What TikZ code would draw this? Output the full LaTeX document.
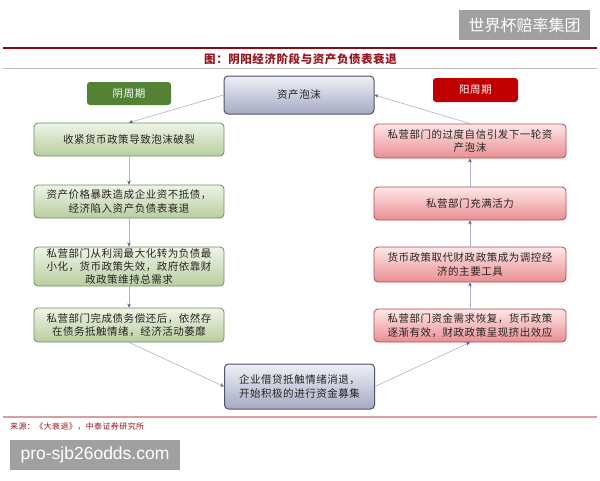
\documentclass[tikz,border=0pt]{standalone}
\usepackage{fontspec}
\newfontfamily\cjk[LetterSpace=5]{Noto Sans CJK SC}
\newfontfamily\cjkplain{Noto Sans CJK SC}
\newfontfamily\wmsans{Liberation Sans}
\usetikzlibrary{arrows.meta}
\definecolor{gtop}{RGB}{238,244,230}
\definecolor{gbot}{RGB}{184,206,160}
\definecolor{gdraw}{RGB}{112,142,92}
\definecolor{rtop}{RGB}{253,232,232}
\definecolor{rbot}{RGB}{234,142,146}
\definecolor{rdraw}{RGB}{184,72,78}
\definecolor{ctop}{RGB}{238,240,247}
\definecolor{cbot}{RGB}{166,170,194}
\definecolor{cdraw}{RGB}{78,84,108}
\definecolor{arr}{RGB}{170,178,204}
\definecolor{arrtip}{RGB}{80,90,140}
\definecolor{titlered}{RGB}{150,20,30}
\definecolor{topline}{RGB}{140,10,20}
\definecolor{rosy}{RGB}{214,160,162}
\definecolor{greenlab}{RGB}{84,130,53}
\definecolor{redlab}{RGB}{192,0,0}
\definecolor{wmgray}{RGB}{160,160,160}
\definecolor{boxtext}{RGB}{40,35,35}
\begin{document}
\begin{tikzpicture}[x=1pt,y=-1pt,
  box/.style={rectangle, rounded corners=4pt, line width=0.8pt, align=center,
    inner xsep=5pt, inner ysep=0pt, text=boxtext,
    font=\cjk\fontsize{10.5}{13.3}\selectfont},
  gbox/.style={box, top color=gtop, bottom color=gbot, draw=gdraw, text width=180pt},
  rbox/.style={box, top color=rtop, bottom color=rbot, draw=rdraw, text width=182pt},
  cbox/.style={box, top color=ctop, bottom color=cbot, draw=cdraw, line width=1pt, text width=140pt},
  lab/.style={rectangle, rounded corners=3pt, inner sep=0pt, text=white,
    font=\cjk\fontsize{10.5}{12}\selectfont},
  conn/.style={draw=arr, line width=0.6pt, -{Stealth[length=4pt,width=3.5pt,color=arrtip]}},
  wm/.style={fill=wmgray, inner sep=0pt, text=white}
]
\useasboundingbox (0,0) rectangle (600,480);
\fill[white] (0,0) rectangle (600,480);

% watermark top
\node[wm, minimum width=131pt, minimum height=30pt,
  font=\cjkplain\fontsize{16}{16}\selectfont] (wm1) at (524.5,25) {世界杯赔率集团};

% header
\draw[topline, line width=1.8pt] (3,48) -- (597,48);
\node[font=\cjk\bfseries\fontsize{11.5}{12}\selectfont, text=titlered, inner sep=0pt] (title) at (300.5,59) {图：阴阳经济阶段与资产负债表衰退};
\draw[gray!55, line width=0.7pt] (3,68) -- (597,68);

% labels
\node[lab, fill=greenlab, minimum width=84pt, minimum height=23pt] (yin) at (129,93.5) {阴周期};
\node[lab, fill=redlab, minimum width=85pt, minimum height=24pt] (yang) at (475.5,90) {阳周期};

% center boxes
\node[cbox, minimum height=38pt] (top) at (299,95) {资产泡沫};
\node[cbox, minimum height=45pt] (bot) at (299.5,386.5) {企业借贷抵触情绪消退，\\开始积极的进行资金募集};

% left boxes
\node[gbox, minimum height=33pt] (L1) at (129,139.5) {收紧货币政策导致泡沫破裂};
\node[gbox, minimum height=33pt] (L2) at (129,201.5) {资产价格暴跌造成企业资不抵债，\\经济陷入资产负债表衰退};
\node[gbox, minimum height=39pt] (L3) at (129,266.5) {私营部门从利润最大化转为负债最\\小化，货币政策失效，政府依靠财\\政政策维持总需求};
\node[gbox, minimum height=34pt] (L4) at (129,325) {私营部门完成债务偿还后，依然存\\在债务抵触情绪，经济活动萎靡};

% right boxes
\node[rbox, minimum height=34pt] (R1) at (470,141) {私营部门的过度自信引发下一轮资\\产泡沫};
\node[rbox, minimum height=33pt] (R2) at (470,203.5) {私营部门充满活力};
\node[rbox, minimum height=35pt] (R3) at (470,264.5) {货币政策取代财政政策成为调控经\\济的主要工具};
\node[rbox, minimum height=33pt] (R4) at (470,325.5) {私营部门资金需求恢复，货币政策\\逐渐有效，财政政策呈现挤出效应};

% connectors
\draw[conn] (top.west) -- (L1.north);
\draw[conn] (L1.south) -- (L2.north);
\draw[conn] (L2.south) -- (L3.north);
\draw[conn] (L3.south) -- (L4.north);
\draw[conn] (L4.south) -- (bot.west);
\draw[conn] (bot.east) -- (R4.south);
\draw[conn] (R4.north) -- (R3.south);
\draw[conn] (R3.north) -- (R2.south);
\draw[conn] (R2.north) -- (R1.south);
\draw[conn] (R1.north) -- (top.east);

% footer
\draw[rosy, line width=1.2pt] (3,417) -- (597,417);
\node[anchor=west, inner sep=0pt, font=\cjk\fontsize{8}{9}\selectfont, text=titlered] (src) at (10,427) {来源：《大衰退》，中泰证券研究所};

% watermark bottom
\node[wm, minimum width=170pt, minimum height=30pt,
  font=\wmsans\fontsize{17.5}{18}\selectfont] (wm2) at (95,455) {pro-sjb26odds.com};
\end{tikzpicture}
\end{document}
